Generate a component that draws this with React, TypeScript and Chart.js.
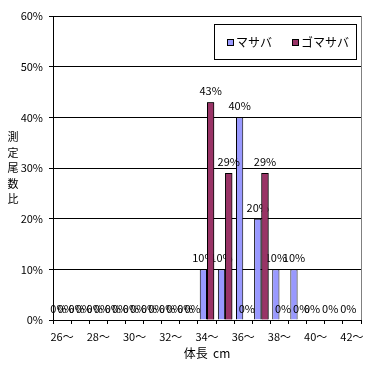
import React, { useEffect, useRef } from 'react';
import { Chart, registerables } from 'chart.js';

Chart.register(...registerables);

const categories = ['26～','27～','28～','29～','30～','31～','32～','33～','34～','35～','36～','37～','38～','39～','40～','41～','42～'];
const masaba: (number | null)[] = [0,0,0,0,0,0,0,0,10,10,40,20,10,10,0,0,0];
const gomasaba: (number | null)[] = [0,0,0,0,0,0,0,0,43,29,0,29,0,0,null,null,null];
const seriesNames = ['マサバ', 'ゴマサバ'];
const seriesColors = ['#9999FF', '#993366'];
const yTitleChars = ['測', '定', '尾', '数', '比'];
const xTitle = '体長  cm';
const FONT = '"Noto Sans CJK JP", "DejaVu Sans", sans-serif';

const decorPlugin = {
  id: 'decor',
  afterDatasetsDraw(chart: any) {
    const ctx = chart.ctx;
    const area = chart.chartArea;
    ctx.save();
    const setLabelFont = () => {
      ctx.font = `11px ${FONT}`;
      ctx.fillStyle = '#000';
      ctx.textAlign = 'center';
      ctx.textBaseline = 'alphabetic';
    };
    const drawLabels = (di: number) => {
      const meta = chart.getDatasetMeta(di);
      const ds = chart.data.datasets[di].data;
      meta.data.forEach((bar: any, i: number) => {
        const v = ds[i];
        if (v === null || v === undefined) return;
        ctx.fillText(`${v}%`, bar.x, bar.y - 7);
      });
    };
    setLabelFont();
    drawLabels(0);
    // redraw red bars over blue labels
    const meta1 = chart.getDatasetMeta(1);
    meta1.data.forEach((bar: any, i: number) => {
      if (chart.data.datasets[1].data[i] !== null) bar.draw(ctx);
    });
    setLabelFont();
    drawLabels(1);

    // right border gray
    ctx.strokeStyle = '#808080';
    ctx.lineWidth = 1;
    ctx.beginPath();
    ctx.moveTo(Math.round(area.right) + 0.5, area.top);
    ctx.lineTo(Math.round(area.right) + 0.5, area.bottom);
    ctx.stroke();

    // legend
    const lx = 214, ly = 24, lw = 142, lh = 35;
    ctx.fillStyle = '#fff';
    ctx.fillRect(lx, ly, lw, lh);
    ctx.strokeStyle = '#000';
    ctx.strokeRect(lx + 0.5, ly + 0.5, lw, lh);
    ctx.font = `12px ${FONT}`;
    ctx.textAlign = 'left';
    ctx.textBaseline = 'middle';
    const items = [{ x: 227 }, { x: 292 }];
    items.forEach((it, k) => {
      ctx.fillStyle = seriesColors[k];
      ctx.fillRect(it.x, 39, 6, 6);
      ctx.strokeStyle = '#000';
      ctx.strokeRect(it.x + 0.5, 39.5, 6, 6);
      ctx.fillStyle = '#000';
      ctx.fillText(seriesNames[k], it.x + 9, 42.5);
    });

    // y title
    ctx.font = `11px ${FONT}`;
    ctx.textAlign = 'center';
    ctx.textBaseline = 'middle';
    yTitleChars.forEach((c, k) => {
      ctx.fillText(c, 13, 137 + k * 15.5);
    });
    // x title
    ctx.font = `12px ${FONT}`;
    ctx.fillText(xTitle, (area.left + area.right) / 2, 353);
    ctx.restore();
  },
};

export default function App() {
  const ref = useRef<HTMLCanvasElement>(null);
  useEffect(() => {
    if (!ref.current) return;
    const chart = new Chart(ref.current, {
      type: 'bar',
      data: {
        labels: categories,
        datasets: [
          { label: seriesNames[0], data: masaba, backgroundColor: seriesColors[0], borderColor: '#000', borderWidth: 1, categoryPercentage: 0.8, barPercentage: 1 },
          { label: seriesNames[1], data: gomasaba, backgroundColor: seriesColors[1], borderColor: '#000', borderWidth: 1, categoryPercentage: 0.8, barPercentage: 1 },
        ],
      },
      options: {
        responsive: false,
        animation: false,
        layout: { padding: { top: 16, right: 11, left: 0, bottom: 0 } },
        plugins: { legend: { display: false }, tooltip: { enabled: false } },
        scales: {
          x: {
            afterFit: (s: any) => { s.height = 45; },
            grid: { display: true, drawOnChartArea: false, drawTicks: true, tickLength: 4, color: '#000', offset: true },
            border: { color: '#000' },
            ticks: {
              autoSkip: false,
              maxRotation: 0,
              padding: 6,
              color: '#000',
              font: { family: FONT, size: 11 },
              callback: (_v: any, i: number) => (i % 2 === 0 ? categories[i] : ''),
            },
          },
          y: {
            min: 0,
            max: 60,
            afterFit: (s: any) => { s.width = 53; },
            grid: { color: '#000', drawTicks: true, tickLength: 4 },
            border: { color: '#000' },
            ticks: {
              stepSize: 10,
              padding: 6,
              color: '#000',
              font: { family: FONT, size: 11 },
              callback: (v: any) => `${v}%`,
            },
          },
        },
      },
      plugins: [decorPlugin],
    });
    return () => chart.destroy();
  }, []);
  return (
    <div style={{ position: 'fixed', left: 0, top: 0, width: 372, height: 365, background: '#fff' }}>
      <canvas ref={ref} width={372} height={365} style={{ display: 'block' }} />
    </div>
  );
}
